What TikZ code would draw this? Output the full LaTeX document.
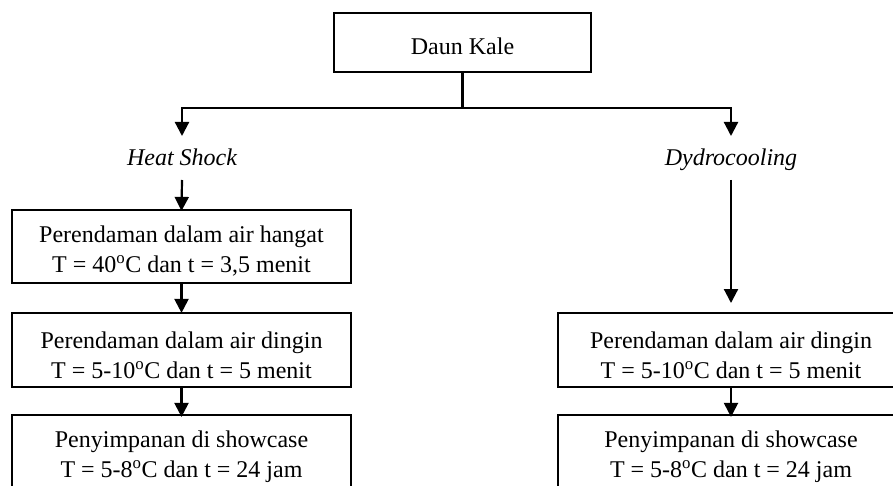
\documentclass[tikz,border=0pt]{standalone}
\usepackage{fontspec}
\setmainfont{Liberation Serif}
\usetikzlibrary{arrows.meta}
\tikzset{
  procbox/.style={draw, line width=2.2pt, minimum width=339pt, inner sep=0pt},
  boxtext/.style={align=center, inner sep=0pt, yshift=-5pt, font=\fontsize{24}{30}\selectfont},
  conn/.style={line width=2.2pt},
  arr/.style={line width=2.2pt, -{Triangle[width=14pt,length=14pt]}},
  lbl/.style={font=\fontsize{24}{30}\selectfont\itshape, inner sep=0pt, anchor=base}
}
\begin{document}
\begin{tikzpicture}[x=1pt,y=-1pt]
\useasboundingbox (0,0) rectangle (893,486);
\clip (0,0) rectangle (893,486);
\fill[white] (0,0) rectangle (893,486);
% top
\node[procbox, minimum width=257pt, minimum height=59pt, label={[boxtext, yshift=1pt]center:Daun Kale}] (kale) at (462.5,42.5) {};
\coordinate (j) at (462.5,108);
\coordinate (jl) at (182,108);
\coordinate (jr) at (731,108);
\coordinate (tl) at (182,136);
\coordinate (tr) at (731,136);
\draw[conn] (kale.south) -- (j);
\draw[conn, line cap=rect] (jl) -- (jr);
\draw[arr] (jl) -- (tl);
\draw[arr] (jr) -- (tr);
% labels
\node[lbl] (hs) at (182,166) {Heat Shock};
\node[lbl] (dc) at (731,166) {Dydrocooling};
\coordinate (hsb) at (182,180);
\coordinate (dcb) at (731,180);
% left column
\node[procbox, minimum height=73pt, label={[boxtext]center:Perendaman dalam air hangat\\T = 40\textsuperscript{o}C dan t = 3,5 menit}] (l1) at (181.5,246.5) {};
\node[procbox, minimum height=74pt, label={[boxtext]center:Perendaman dalam air dingin\\T = 5-10\textsuperscript{o}C dan t = 5 menit}] (l2) at (181.5,350) {};
\node[procbox, minimum height=73pt, label={[boxtext]center:Penyimpanan di showcase\\T = 5-8\textsuperscript{o}C dan t = 24 jam}] (l3) at (181.5,451.5) {};
\draw[arr] (hsb) -- ([yshift=-2pt]l1.north);
\draw[arr] (l1.south) -- ([yshift=-1pt]l2.north);
\draw[arr] (l2.south) -- ([yshift=-3pt]l3.north);
% right column
\node[procbox, minimum width=346pt, minimum height=74pt, label={[boxtext]center:Perendaman dalam air dingin\\T = 5-10\textsuperscript{o}C dan t = 5 menit}] (r1) at (731,350) {};
\node[procbox, minimum width=346pt, minimum height=73pt, label={[boxtext]center:Penyimpanan di showcase\\T = 5-8\textsuperscript{o}C dan t = 24 jam}] (r2) at (731,451.5) {};
\coordinate (rt) at (731,303);
\draw[arr] (dcb) -- (rt);
\draw[arr] (r1.south) -- ([yshift=-3pt]r2.north);
\end{tikzpicture}
\end{document}
